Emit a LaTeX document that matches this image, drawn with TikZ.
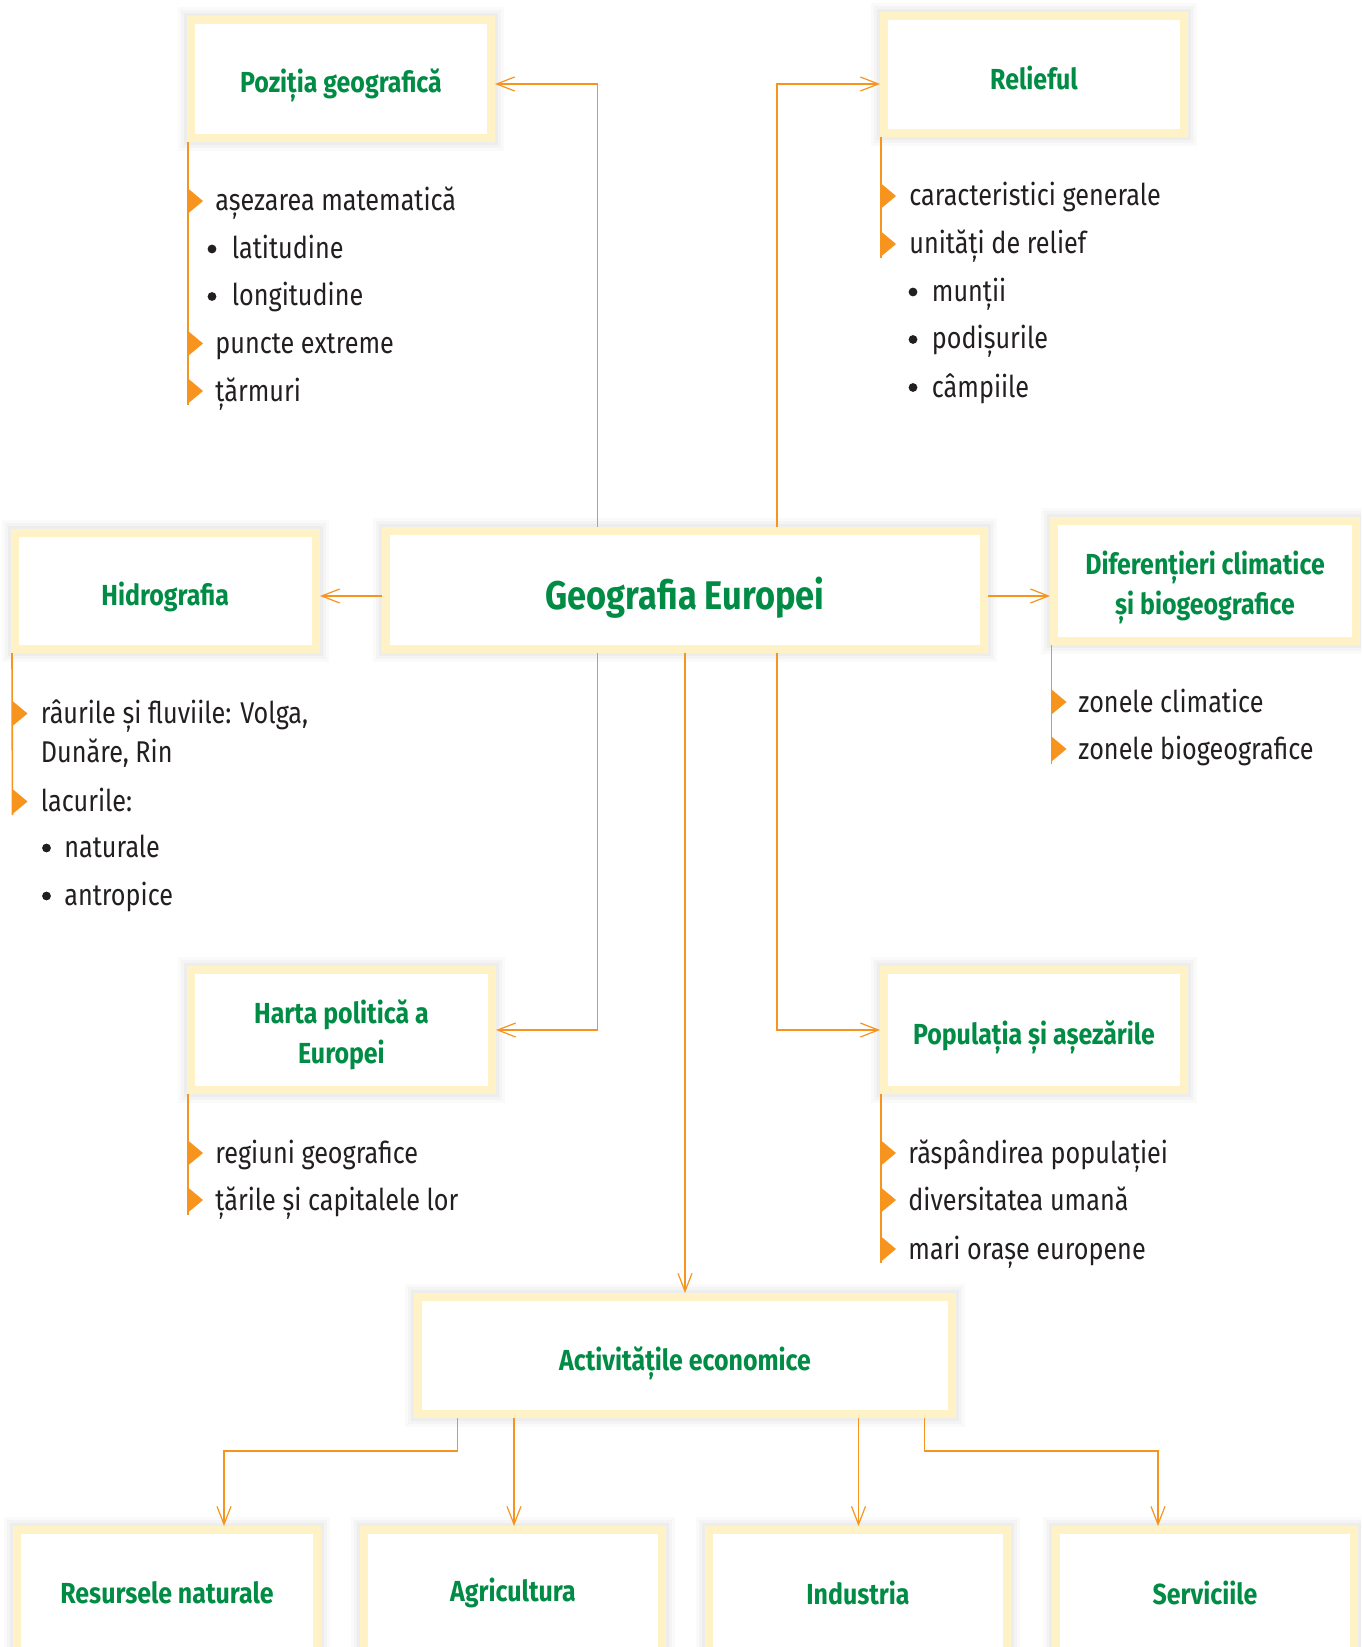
\documentclass[tikz,border=0pt]{standalone}
\usepackage{fontspec}
\setmainfont{Fira Sans}[FakeStretch=0.84]
\newfontfamily\titlefam{Fira Sans}[FakeStretch=0.86]
\usetikzlibrary{arrows.meta,calc}
\definecolor{tgreen}{RGB}{0,140,68}
\definecolor{lorange}{RGB}{247,148,29}
\definecolor{byellow}{RGB}{255,242,198}
\definecolor{tdark}{RGB}{35,31,32}
\newcommand\trimark[2]{\fill[lorange] (#1,#2-12.5) -- (#1+15,#2) -- (#1,#2+12.5) -- cycle;}
\newcommand\dotmark[2]{\fill[tdark] (#1,#2) circle[radius=2.2pt];}
\newcommand\dn[2][2pt]{\raisebox{-#1}[\height][\depth]{#2}}
\begin{document}
\begin{tikzpicture}[x=0.5pt,y=-0.5pt,
  tbox/.style={draw=byellow, line width=4pt, outer sep=2pt, fill=white, inner sep=0pt,
    align=center, text=tgreen, font=\titlefam\bfseries\fontsize{14.5}{20}\selectfont,
    preaction={draw=black, draw opacity=0.018, line width=13pt},
    preaction={draw=black, draw opacity=0.022, line width=10pt},
    preaction={draw=black, draw opacity=0.027, line width=7pt}},
  bigtitle/.style={font=\titlefam\bfseries\fontsize{20}{24}\selectfont},
  conn/.style={draw=lorange, line width=0.6pt, -{Straight Barb[length=9pt,width=7pt]}},
  listline/.style={draw=lorange, line width=0.8pt},
  item/.style={anchor=base west, inner sep=0pt, text=tdark, font=\fontsize{15}{18}\selectfont}]
\useasboundingbox (0,0) rectangle (1361,1647);
\clip (0,0) rectangle (1361,1647);
\fill[white] (0,0) rectangle (1361,1647);

% boxes
\node[tbox, minimum width=150pt, minimum height=59pt] (poz) at (341,79) {\dn[3pt]{Poziția geografică}};
\node[tbox, minimum width=150pt, minimum height=58.5pt] (rel) at (1034,74.5) {\dn[1.5pt]{Relieful}};
\node[tbox, bigtitle, minimum width=299pt, minimum height=59pt] (geo) at (685,590) {\dn[4pt]{Geografia Europei}};
\node[tbox, minimum width=150.75pt, minimum height=58pt] (hid) at (165.25,591) {\dn[3pt]{Hidrografia}};
\node[tbox, minimum width=151pt, minimum height=60pt] (dif) at (1205,581) {\dn[3pt]{Diferențieri climatice}\\\dn[3pt]{și biogeografice}};
\node[tbox, minimum width=150.5pt, minimum height=60pt] (har) at (341.5,1030) {\dn[2.5pt]{Harta politică a}\\\dn[2.5pt]{Europei}};
\node[tbox, minimum width=150pt, minimum height=60pt] (pop) at (1034,1030) {\dn[3.5pt]{Populația și așezările}};
\node[tbox, minimum width=267pt, minimum height=58.5pt] (act) at (685,1355.5) {\dn[4pt]{Activitățile economice}};
\node[tbox, minimum width=150pt, minimum height=61pt] (res) at (167,1591) {\dn[1pt]{Resursele naturale}};
\node[tbox, minimum width=149pt, minimum height=61pt] (agr) at (513,1591) {\dn[1pt]{Agricultura}};
\node[tbox, minimum width=149pt, minimum height=61pt] (ind) at (858,1591) {\dn[1pt]{Industria}};
\node[tbox, minimum width=149pt, minimum height=61pt] (ser) at (1205,1591) {\dn[1pt]{Serviciile}};

% junction coordinates
\coordinate (jTL) at (597.6,84);
\coordinate (jTR) at (777,84);
\coordinate (jBL) at (597.6,1030);
\coordinate (jBR) at (777,1030);
\coordinate (jH) at (0,596);
\coordinate (kL) at (457.5,1451);
\coordinate (kLL) at (224,1451);
\coordinate (kA) at (514,0);
\coordinate (kI) at (858.5,0);
\coordinate (kR) at (924.5,1451);
\coordinate (kRR) at (1158,1451);

% connectors
\draw[conn] (geo.north -| jTL) -- (jTL) -- (jTL -| poz.east);
\draw[conn] (geo.north -| jTR) -- (jTR) -- (jTR -| rel.west);
\draw[conn] (geo.west |- jH) -- (hid.east |- jH);
\draw[conn] (geo.east |- jH) -- (dif.west |- jH);
\draw[conn] (geo.south -| jBL) -- (jBL) -- (jBL -| har.east);
\draw[conn] (geo.south -| jBR) -- (jBR) -- (jBR -| pop.west);
\draw[conn] (geo.south) -- (act.north);
\draw[conn] (act.south -| kL) -- (kL) -- (kLL) -- (kLL |- res.north);
\draw[conn] (act.south -| kA) -- (kA |- agr.north);
\draw[conn] (act.south -| kI) -- (kI |- ind.north);
\draw[conn] (act.south -| kR) -- (kR) -- (kRR) -- (kRR |- ser.north);

% Pozitia list
\draw[listline] ($(poz.south west)+(1,0)$) -- (188,405);
\trimark{188}{201}
\node[item] (p1) at (215,211) {așezarea matematică};
\dotmark{212}{249}
\node[item] (p2) at (231.5,258.5) {latitudine};
\dotmark{212}{296.5}
\node[item] (p3) at (231.5,306) {longitudine};
\trimark{188}{343.5}
\node[item] (p4) at (215,353.5) {puncte extreme};
\trimark{188}{391}
\node[item] (p5) at (215,401) {țărmuri};

% Relieful list
\draw[listline] ($(rel.south west)+(1,0)$) -- (881,258);
\trimark{881}{196}
\node[item] (r1) at (909,206) {caracteristici generale};
\trimark{881}{244}
\node[item] (r2) at (909,254) {unități de relief};
\dotmark{913}{292}
\node[item] (r3) at (931.5,301.5) {munții};
\dotmark{913}{339.5}
\node[item] (r4) at (931.5,349) {podișurile};
\dotmark{913}{387.5}
\node[item] (r5) at (931.5,397) {câmpiile};

% Hidrografia list
\draw[listline] ($(hid.south west)+(1.5,0)$) -- (12.5,815);
\trimark{12.5}{713.5}
\node[item] (h1) at (40.5,723.5) {râurile și fluviile: Volga,};
\node[item] (h1b) at (40.5,762) {Dunăre, Rin};
\trimark{12.5}{801.5}
\node[item] (h2) at (40.5,811.5) {lacurile:};
\dotmark{46.5}{848}
\node[item] (h3) at (64,857.5) {naturale};
\dotmark{46.5}{896}
\node[item] (h4) at (64,905.5) {antropice};

% Diferentieri list
\draw[listline] ($(dif.south west)+(1.5,0)$) -- (1051.5,764);
\trimark{1051.5}{702}
\node[item] (d1) at (1078,712) {zonele climatice};
\trimark{1051.5}{749}
\node[item] (d2) at (1078,759) {zonele biogeografice};

% Harta list
\draw[listline] ($(har.south west)+(1,0)$) -- (188,1215);
\trimark{188}{1153}
\node[item] (m1) at (215,1163) {regiuni geografice};
\trimark{188}{1200}
\node[item] (m2) at (215,1210) {țările și capitalele lor};

% Populatia list
\draw[listline] ($(pop.south west)+(1,0)$) -- (881,1263);
\trimark{881}{1153}
\node[item] (q1) at (908,1163) {răspândirea populației};
\trimark{881}{1200}
\node[item] (q2) at (908,1210) {diversitatea umană};
\trimark{881}{1249}
\node[item] (q3) at (908,1259) {mari orașe europene};
\end{tikzpicture}
\end{document}
